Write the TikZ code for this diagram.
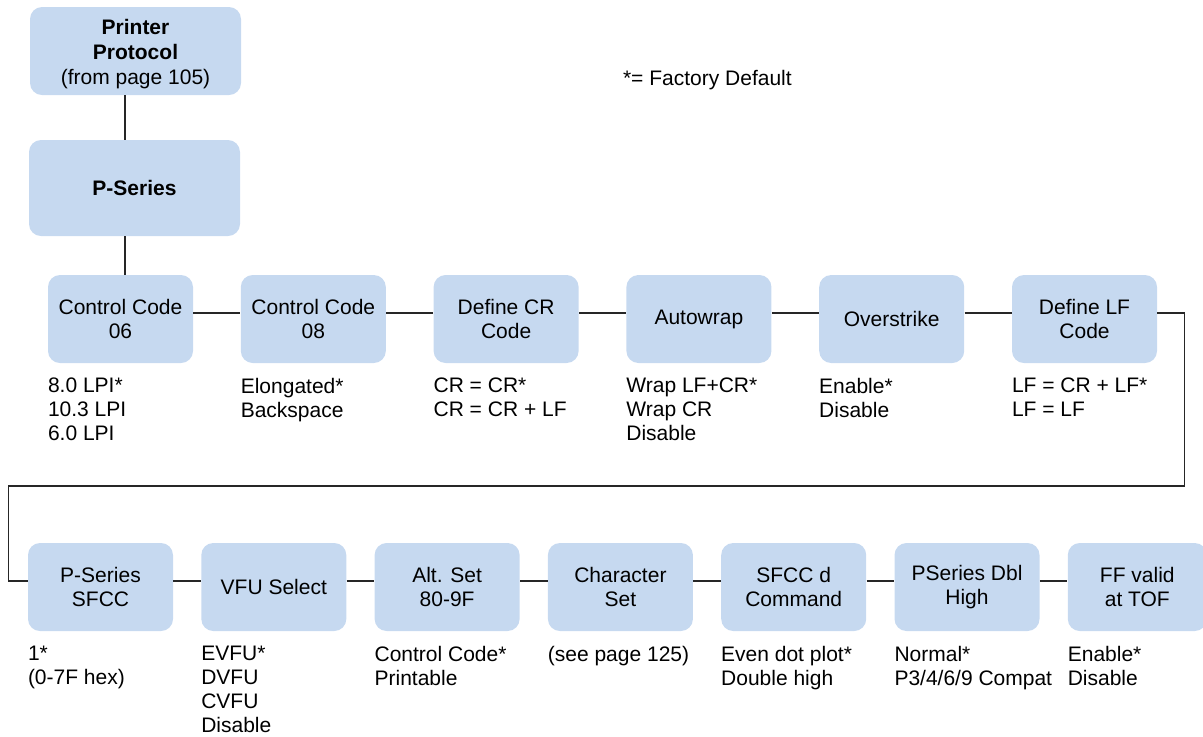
\documentclass[tikz,border=0pt]{standalone}
\usepackage{fontspec}
\setmainfont{Liberation Sans}
\usetikzlibrary{positioning,calc}
\definecolor{boxblue}{HTML}{C6D9F0}

\begin{document}
\begin{tikzpicture}[
    menubox/.style={fill=boxblue, rounded corners=6pt, minimum width=72.5pt, minimum height=44pt, inner sep=1pt, align=center},
    headbox/.style={menubox, minimum width=105.5pt, font=\fontsize{10.5}{12.5}\selectfont},
    options/.style={align=left, inner sep=0pt, below right=7pt and 0pt of #1},
    link/.style={draw=black!85, line width=0.6pt},
    every node/.style={font=\fontsize{10.5}{12}\selectfont},
    node distance=23.5pt
  ]
    \useasboundingbox (0,0) rectangle (601.5pt,-368pt);
    \node[headbox] (protocol) at (67.75pt,-25.5pt) {\rule{0pt}{10.5pt}\textbf{Printer}\\\textbf{Protocol}\\(from page 105)};
    \node[headbox, minimum height=48pt] (pseries) at (67.25pt,-94pt) {\textbf{P-Series}};
    \node[anchor=base west] (legend) at (308pt,-42.75pt) {*= Factory Default};

    \node[menubox] (cc06) at (60.25pt,-159.5pt) {Control Code\\06};
    \node[menubox, right=of cc06] (cc08) {Control Code\\08};
    \node[menubox, right=of cc08] (defcr) {Define CR\\Code};
    \node[menubox, right=of defcr] (autowrap) {Autowrap};
    \node[menubox, right=of autowrap] (overstrike) {Overstrike};
    \node[menubox, right=of overstrike] (deflf) {Define LF\\Code};

    \node[menubox] (pss) at (50.25pt,-293.5pt) {P-Series\\SFCC};
    \node[menubox, right=13.75pt of pss] (vfu) {VFU Select};
    \node[menubox, right=13.75pt of vfu] (altset) {Alt. Set\\80-9F};
    \node[menubox, right=13.75pt of altset] (charset) {Character\\Set};
    \node[menubox, right=13.75pt of charset] (sfccd) {SFCC d\\Command};
    \node[menubox, right=13.75pt of sfccd] (dblhigh) {PSeries Dbl\\High};
    \node[menubox, minimum width=69.5pt, right=13.75pt of dblhigh] (fftof) {FF valid\\at TOF};

    \node[options=cc06.south west] (cc06opt) {8.0 LPI*\\10.3 LPI\\6.0 LPI};
    \node[options=cc08.south west] (cc08opt) {Elongated*\\Backspace};
    \node[options=defcr.south west] (defcropt) {CR = CR*\\CR = CR + LF};
    \node[options=autowrap.south west] (autowrapopt) {Wrap LF+CR*\\Wrap CR\\Disable};
    \node[options=overstrike.south west] (overstrikeopt) {Enable*\\Disable};
    \node[options=deflf.south west] (deflfopt) {LF = CR + LF*\\LF = LF};
    \node[options=pss.south west] (pssopt) {1*\\(0-7F hex)};
    \node[options=vfu.south west] (vfuopt) {EVFU*\\DVFU\\CVFU\\Disable};
    \node[options=altset.south west] (altsetopt) {Control Code*\\Printable};
    \node[options=charset.south west] (charsetopt) {(see page 125)};
    \node[options=sfccd.south west] (sfccdopt) {Even dot plot*\\Double high};
    \node[options=dblhigh.south west] (dblhighopt) {Normal*\\P3/4/6/9 Compat};
    \node[options=fftof.south west] (fftofopt) {Enable*\\Disable};

    \draw[link] ([xshift=-5.25pt]protocol.south) -- ([xshift=-4.75pt]pseries.north);
    \draw[link] ([xshift=-4.75pt]pseries.south) -- ([xshift=2.25pt]cc06.north);
    \foreach \a/\b in {cc06/cc08, cc08/defcr, defcr/autowrap, autowrap/overstrike, overstrike/deflf,
                       pss/vfu, vfu/altset, altset/charset, charset/sfccd, sfccd/dblhigh, dblhigh/fftof}
      \draw[link] ([yshift=3pt]\a.east) -- ([yshift=3pt]\b.west);
    \coordinate (turnR) at ($(deflf.east)+(13.5pt,-83.5pt)$);
    \coordinate (turnL) at ($(pss.west)+(-9.5pt,3pt)$);
    \draw[link] ([yshift=3pt]deflf.east) -| (turnR) -| (turnL) -- ([yshift=3pt]pss.west);
  \end{tikzpicture}
\end{document}
